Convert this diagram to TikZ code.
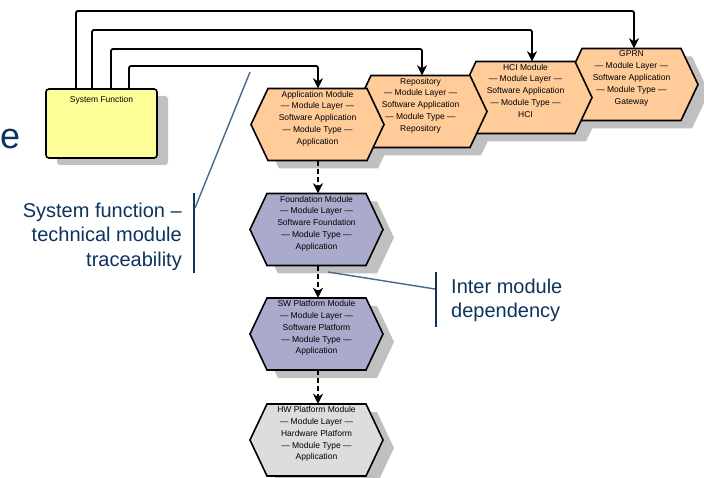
\documentclass[tikz,border=0pt]{standalone}
\usepackage{fontspec}
\setmainfont{Liberation Sans}
\usetikzlibrary{arrows.meta,shadows}

\definecolor{peach}{RGB}{255,204,153}
\definecolor{lavender}{RGB}{170,170,204}
\definecolor{palegray}{RGB}{221,221,221}
\definecolor{shadowgray}{RGB}{192,192,192}
\definecolor{sfyellow}{RGB}{255,255,153}
\definecolor{navy}{RGB}{12,52,92}
\definecolor{leader}{RGB}{70,105,140}

\tikzset{
  hexline/.style={draw=black, line width=1.6pt, line join=miter},
  modbox/.style={minimum width=133pt, minimum height=72pt, inner sep=0pt},
  modtext/.style={font=\fontsize{8.5}{11.8}\selectfont, align=center, inner sep=0pt},
  sfbox/.style={draw=black, fill=sfyellow, line width=1.6pt, rounded corners=3pt,
    minimum width=111pt, minimum height=69pt, inner sep=0pt,
    drop shadow={shadow xshift=11pt, shadow yshift=-7pt, fill=shadowgray, opacity=1}},
  link/.style={line width=1.8pt, rounded corners=2pt,
    -{Stealth[length=10pt,width=10pt,inset=3pt]}},
  deplink/.style={line width=1.8pt, dash pattern=on 5pt off 3pt,
    -{Stealth[length=10pt,width=10pt,inset=3pt]}},
  pointer/.style={draw=leader, line width=1.4pt},
  bracket/.style={draw=navy, line width=2.4pt},
  callout/.style={text=navy, font=\fontsize{20}{24.5}\selectfont, inner sep=0pt},
}

% shadow of a module hexagon centred at (#1,#2)
\newcommand\ModShadow[2]{%
  \fill[shadowgray] ({#1-66.5+11},{#2+8}) -- ++(17,-36) -- ++(99,0) -- ++(17,36)
    -- ++(-17,36) -- ++(-99,0) -- cycle;}
% module hexagon: #1 name, #2/#3 centre, #4 fill, #5 text
\newcommand\ModHex[5]{%
  \filldraw[hexline, fill=#4] ({#2-66.5},#3) -- ++(17,-36) -- ++(99,0) -- ++(17,36)
    -- ++(-17,36) -- ++(-99,0) -- cycle;
  \node[modbox] (#1) at (#2,#3) {};
  \node[modtext, anchor=north] (#1-txt) at ([yshift=-2.5pt]#1.north) {#5};}

\begin{document}
\begin{tikzpicture}[x=1pt, y=-1pt]
\useasboundingbox[fill=white] (0,0) rectangle (704,478);

% clipped heading letter at the left edge
\node[text=navy, font=\fontsize{36}{40}\selectfont, inner sep=0pt, anchor=base west] (edge-e) at (0,149) {e};

% system function box
\node[sfbox] (sf) at (101.5,123.5) {};
\node[modtext, anchor=north] (sf-txt) at ([yshift=-7.5pt]sf.north) {System Function};

% shadows behind every module
\ModShadow{631.5}{84.5}
\ModShadow{525.5}{97.5}
\ModShadow{420.5}{111.5}
\ModShadow{317.5}{124.5}
\ModShadow{316.5}{229.5}
\ModShadow{316.5}{334}
\ModShadow{316.5}{440}

% top row of modules, back to front
\ModHex{gprn}{631.5}{84.5}{peach}{GPRN\\— Module Layer —\\Software Application\\— Module Type —\\Gateway}
\ModHex{hci}{525.5}{97.5}{peach}{HCI Module\\— Module Layer —\\Software Application\\— Module Type —\\HCI}
\ModHex{repo}{420.5}{111.5}{peach}{Repository\\— Module Layer —\\Software Application\\— Module Type —\\Repository}
\ModHex{app}{317.5}{124.5}{peach}{Application Module\\— Module Layer —\\Software Application\\— Module Type —\\Application}

% dependency stack
\ModHex{found}{316.5}{229.5}{lavender}{Foundation Module\\— Module Layer —\\Software Foundation\\— Module Type —\\Application}
\ModHex{swp}{316.5}{334}{lavender}{SW Platform Module\\— Module Layer —\\Software Platform\\— Module Type —\\Application}
\ModHex{hwp}{316.5}{440}{palegray}{HW Platform Module\\— Module Layer —\\Hardware Platform\\— Module Type —\\Application}

% traceability links from the system function
\coordinate (a1) at (76,11);  \coordinate (b1) at (634,11);
\coordinate (a2) at (92,30);  \coordinate (b2) at (532,30);
\coordinate (a3) at (111,49); \coordinate (b3) at (422,49);
\coordinate (a4) at (129,66); \coordinate (b4) at (318,66);
\draw[link] (a1 |- sf.north) -- (a1) -- (b1) -- (b1 |- gprn.north);
\draw[link] (a2 |- sf.north) -- (a2) -- (b2) -- (b2 |- hci.north);
\draw[link] (a3 |- sf.north) -- (a3) -- (b3) -- (b3 |- repo.north);
\draw[link] (a4 |- sf.north) -- (a4) -- (b4) -- (b4 |- app.north);

% inter module dependencies
\coordinate (spine) at (318,0);
\draw[deplink] (spine |- app.south) -- (spine |- found.north);
\draw[deplink] (spine |- found.south) -- (spine |- swp.north);
\draw[deplink] (spine |- swp.south) -- (spine |- hwp.north);

% callouts
\node[callout, align=right, anchor=north east] (trace) at (182,202.4)
  {System function –\\technical module\\traceability};
\coordinate (traceTop) at (194,193);
\coordinate (traceBot) at (194,273);
\coordinate (traceTip) at (250,72);
\draw[bracket] (traceTop) -- (traceBot);
\draw[pointer] (traceTip) -- (195,208);

\node[callout, align=left, anchor=north west] (dep) at (451,278.7)
  {Inter module\\dependency};
\coordinate (depTop) at (436,272);
\coordinate (depBot) at (436,327);
\coordinate (depTip) at (328,272);
\draw[bracket] (depTop) -- (depBot);
\draw[pointer] (depTip) -- (435,289);
\end{tikzpicture}
\end{document}
